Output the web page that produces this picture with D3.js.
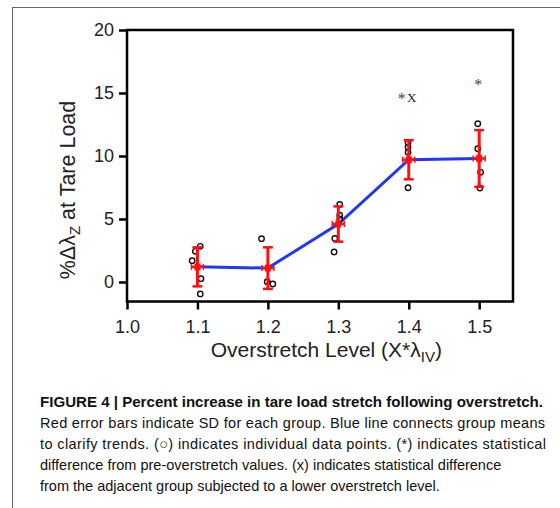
<!DOCTYPE html>
<html>
<head>
<meta charset="utf-8">
<script src="https://cdn.jsdelivr.net/npm/d3@7"></script>
<style>
  body { margin: 0; background: #fff; }
  svg { display: block; font-family: "Liberation Sans", Arial, sans-serif; }
</style>
</head>
<body>
<div id="chart"></div>
<script>
// group level, mean and SD
const levels = [1.1, 1.2, 1.3, 1.4, 1.5];
const means = [1.2, 1.1, 4.6, 9.7, 9.8];
const sds = [1.55, 1.65, 1.4, 1.55, 2.25];

// individual data points (x slightly jittered, as in the figure)
const pointX = [1.104, 1.097, 1.0925, 1.105, 1.104,
                1.191, 1.199, 1.207,
                1.302, 1.302, 1.302, 1.295, 1.294,
                1.399, 1.399, 1.399, 1.399,
                1.498, 1.498, 1.502, 1.501];
const pointY = [2.83, 2.43, 1.69, 0.26, -0.95,
                3.44, 0.02, -0.16,
                6.15, 5.3, 5.0, 3.45, 2.38,
                11.05, 10.7, 10.3, 7.48,
                12.56, 10.58, 8.7, 7.46];

// significance marks
const sigLevels = [1.4, 1.5];
const sigY = [14.7, 15.8];
const sigX = [true, false];

const xTicks = [1.0, 1.1, 1.2, 1.3, 1.4, 1.5];
const yTicks = [0, 5, 10, 15, 20];

const captionTitle = 'FIGURE 4 | Percent increase in tare load stretch following overstretch.';
const captionLines = [
  'Red error bars indicate SD for each group. Blue line connects group means',
  'to clarify trends. (\u25CB) indicates individual data points. (*) indicates statistical',
  'difference from pre-overstretch values. (x) indicates statistical difference',
  'from the adjacent group subjected to a lower overstretch level.'
];
// justified widths for the first lines, null = natural width
const captionWidths = [503, 505, 506, null, null];

const W = 560, H = 508;
const margin = {top: 30, right: 47, bottom: 206.5, left: 127};
const width = W - margin.left - margin.right;
const height = H - margin.top - margin.bottom;

const svg = d3.select('#chart').append('svg')
  .attr('width', W)
  .attr('height', H);

// figure frame
svg.append('line').attr('x1', 12.5).attr('x2', 12.5).attr('y1', 7).attr('y2', H)
  .attr('stroke', '#666').attr('stroke-width', 1);
svg.append('line').attr('x1', 12).attr('x2', W).attr('y1', 7.5).attr('y2', 7.5)
  .attr('stroke', '#666').attr('stroke-width', 1);

const g = svg.append('g')
  .attr('transform', 'translate(' + margin.left + ',' + margin.top + ')');

const x = d3.scaleLinear().domain([1.0, 1.548]).range([0, width]);
const y = d3.scaleLinear().domain([-1.55, 20]).range([height, 0]);

// plot box
g.append('rect')
  .attr('x', 0).attr('y', 0)
  .attr('width', width).attr('height', height)
  .attr('fill', 'none')
  .attr('stroke', '#000')
  .attr('stroke-width', 2.5);

// axes
const yAxis = g.append('g')
  .call(d3.axisLeft(y).tickValues(yTicks).tickSize(8).tickPadding(5).tickFormat(d3.format('d')));
const xAxis = g.append('g')
  .attr('transform', 'translate(0,' + height + ')')
  .call(d3.axisBottom(x).tickValues(xTicks).tickSize(8).tickPadding(11).tickFormat(d3.format('.1f')));

[xAxis, yAxis].forEach(function(a) {
  a.select('.domain').remove();
  a.selectAll('.tick line').attr('stroke', '#000').attr('stroke-width', 2.5);
  a.selectAll('.tick text')
    .attr('fill', '#222')
    .style('font-size', '18px')
    .style('font-family', '"Liberation Sans", Arial, sans-serif');
});

// axis titles
const yTitle = g.append('text')
  .attr('transform', 'translate(-52,' + y(7.3) + ') rotate(-90)')
  .attr('text-anchor', 'middle')
  .attr('fill', '#222')
  .style('font-size', '21.5px');
yTitle.append('tspan').text('%\u0394\u03BB');
yTitle.append('tspan').text('Z').attr('dy', 5).style('font-size', '15px');
yTitle.append('tspan').text(' at Tare Load').attr('dy', -5);

const xTitle = g.append('text')
  .attr('x', x(1.283))
  .attr('y', height + 55)
  .attr('text-anchor', 'middle')
  .attr('fill', '#222')
  .style('font-size', '21px');
xTitle.append('tspan').text('Overstretch Level (X*\u03BB');
xTitle.append('tspan').text('IV').attr('dy', 5).style('font-size', '15px');
xTitle.append('tspan').text(')').attr('dy', -5);

// blue mean line
const line = d3.line()
  .x(function(d, i) { return x(levels[i]); })
  .y(function(d) { return y(d); });

g.append('path')
  .datum(means)
  .attr('fill', 'none')
  .attr('stroke', '#2335f5')
  .attr('stroke-width', 3)
  .attr('d', line);

// individual points
g.selectAll('.pt')
  .data(pointY)
  .enter().append('circle')
  .attr('class', 'pt')
  .attr('cx', function(d, i) { return x(pointX[i]); })
  .attr('cy', function(d) { return y(d); })
  .attr('r', 2.7)
  .attr('fill', 'none')
  .attr('stroke', '#111')
  .attr('stroke-width', 1.4);

// red error bars
const red = '#ff1010';
const bars = g.selectAll('.err')
  .data(means)
  .enter().append('g')
  .attr('class', 'err');

bars.append('line')
  .attr('x1', function(d, i) { return x(levels[i]); })
  .attr('x2', function(d, i) { return x(levels[i]); })
  .attr('y1', function(d, i) { return y(d + sds[i]); })
  .attr('y2', function(d, i) { return y(d - sds[i]); })
  .attr('stroke', red).attr('stroke-width', 3);

[1, -1].forEach(function(sgn) {
  bars.append('line')
    .attr('x1', function(d, i) { return x(levels[i]) - 5; })
    .attr('x2', function(d, i) { return x(levels[i]) + 5; })
    .attr('y1', function(d, i) { return y(d + sgn * sds[i]); })
    .attr('y2', function(d, i) { return y(d + sgn * sds[i]); })
    .attr('stroke', red).attr('stroke-width', 2.5);
});

// small horizontal bar and marker at the mean
bars.append('line')
  .attr('x1', function(d, i) { return x(levels[i]) - 6; })
  .attr('x2', function(d, i) { return x(levels[i]) + 6; })
  .attr('y1', function(d) { return y(d); })
  .attr('y2', function(d) { return y(d); })
  .attr('stroke', red).attr('stroke-width', 2.5);
[-6, 6].forEach(function(dx) {
  bars.append('line')
    .attr('x1', function(d, i) { return x(levels[i]) + dx; })
    .attr('x2', function(d, i) { return x(levels[i]) + dx; })
    .attr('y1', function(d) { return y(d) - 3; })
    .attr('y2', function(d) { return y(d) + 3; })
    .attr('stroke', red).attr('stroke-width', 1.5);
});
bars.append('rect')
  .attr('x', function(d, i) { return x(levels[i]) - 3; })
  .attr('y', function(d) { return y(d) - 3.5; })
  .attr('width', 6).attr('height', 7)
  .attr('fill', red);

// significance marks
sigLevels.forEach(function(lv, i) {
  const cx = x(lv) - (sigX[i] ? 7 : 1);
  g.append('text')
    .attr('x', cx)
    .attr('y', y(sigY[i]) + 7)
    .attr('text-anchor', 'middle')
    .attr('fill', '#444')
    .style('font-family', '"Liberation Serif", serif')
    .style('font-size', '16px')
    .text('*');
  if (sigX[i]) {
    g.append('text')
      .attr('x', cx + 10)
      .attr('y', y(sigY[i]) + 5)
      .attr('text-anchor', 'middle')
      .attr('fill', '#222')
      .style('font-family', '"Liberation Serif", serif')
      .style('font-size', '13px')
      .text('X');
  }
});

// caption
const cap = svg.append('g').attr('fill', '#111').style('font-size', '14.5px');
const title = cap.append('text')
  .attr('x', 40).attr('y', 407)
  .style('font-weight', 'bold')
  .attr('textLength', captionWidths[0])
  .attr('lengthAdjust', 'spacingAndGlyphs')
  .text(captionTitle);
captionLines.forEach(function(t, i) {
  const txt = cap.append('text')
    .attr('x', 40).attr('y', 428 + i * 21)
    .text(t);
  if (captionWidths[i + 1]) {
    txt.attr('textLength', captionWidths[i + 1]).attr('lengthAdjust', 'spacing');
  }
});
</script>
</body>
</html>
